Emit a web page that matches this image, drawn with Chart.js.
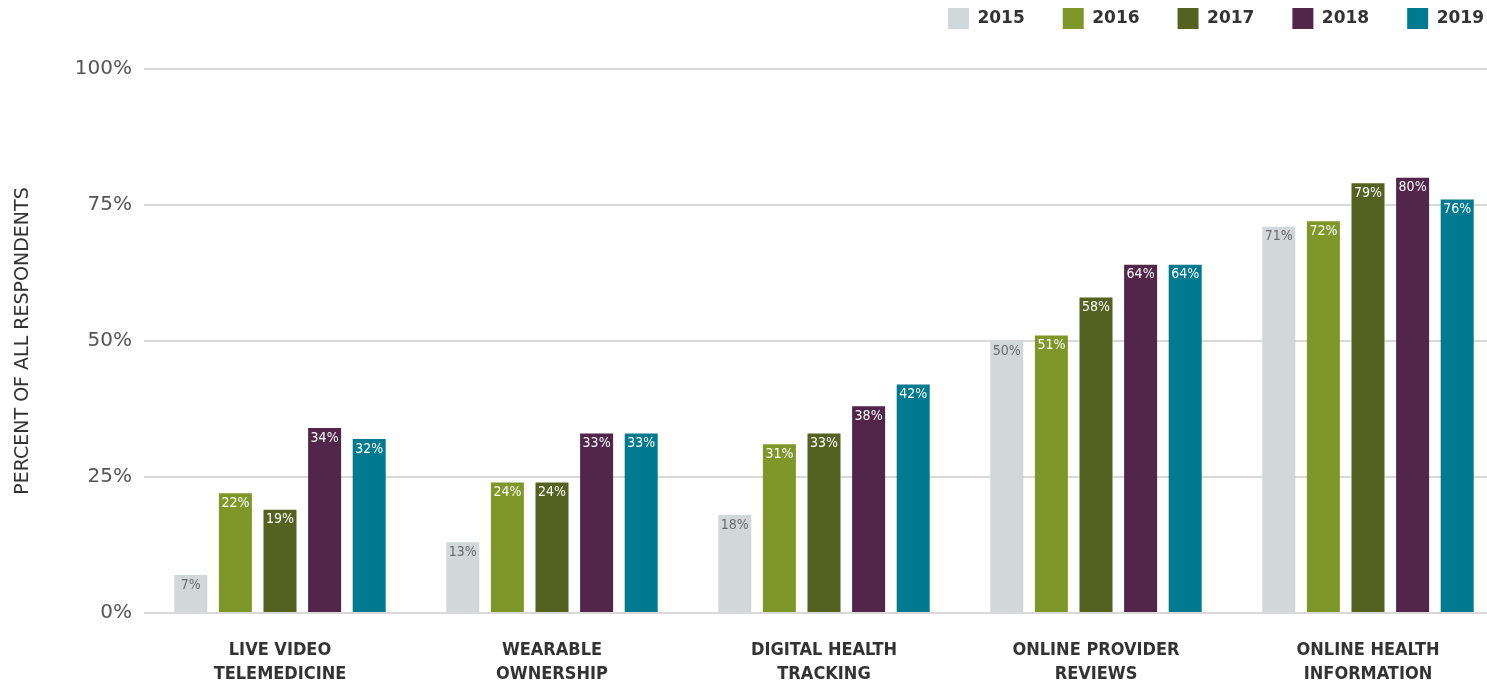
<!DOCTYPE html>
<html>
<head>
<meta charset="utf-8">
<script src="https://cdn.jsdelivr.net/npm/chart.js@4/dist/chart.umd.min.js"></script>
<style>
  html, body { margin: 0; padding: 0; background: #fff; overflow: hidden; }
  #wrap { width: 1520px; height: 686px; }
</style>
</head>
<body>
<div id="wrap"><canvas id="barChart"></canvas></div>
<script>
var categories = [["LIVE VIDEO", "TELEMEDICINE"], ["WEARABLE", "OWNERSHIP"], ["DIGITAL HEALTH", "TRACKING"], ["ONLINE PROVIDER", "REVIEWS"], ["ONLINE HEALTH", "INFORMATION"]];
var years = ["2015", "2016", "2017", "2018", "2019"];
var values2015 = [7, 13, 18, 50, 71];
var values2016 = [22, 24, 31, 51, 72];
var values2017 = [19, 24, 33, 58, 79];
var values2018 = [34, 33, 38, 64, 80];
var values2019 = [32, 33, 42, 64, 76];
var yTicks = [0, 25, 50, 75, 100];

var colors = ['#d0d8da', '#7f9629', '#556120', '#52254a', '#007a8e'];
var labelColors = ['#6b6b6b', '#fff', '#fff', '#fff', '#fff'];
var allValues = [values2015, values2016, values2017, values2018, values2019];

var condensed = "'DejaVu Sans Condensed', sans-serif";

// labels written inside the top of each bar
var barLabels = {
    id: 'barLabels',
    afterLayout: function(chart) {
        // nudge the legend to the top right corner
        var lg = chart.legend;
        lg.left += 18; lg.right += 18;
        lg.top -= 30; lg.bottom -= 30;
    },
    afterDatasetsDraw: function(chart) {
        var ctx = chart.ctx;
        ctx.save();
        ctx.font = '14px ' + condensed;
        ctx.textAlign = 'center';
        ctx.textBaseline = 'top';
        chart.data.datasets.forEach(function(ds, i) {
            var meta = chart.getDatasetMeta(i);
            meta.data.forEach(function(bar, j) {
                ctx.fillStyle = labelColors[i];
                ctx.fillText(ds.data[j] + '%', bar.x, bar.y + 3);
            });
        });
        ctx.restore();
    }
};

var ctx = document.getElementById('barChart').getContext('2d');

var myBarChart = new Chart(ctx, {
    type: 'bar',
    data: {
        labels: categories,
        datasets: years.map(function(y, i) {
            return {
                label: y,
                data: allValues[i],
                backgroundColor: colors[i],
                borderWidth: 0,
                categoryPercentage: 0.82,
                barPercentage: 0.74
            };
        })
    },
    options: {
        responsive: true,
        maintainAspectRatio: false,
        animation: false,
        layout: { padding: { top: 0, right: 16, bottom: 0, left: 0 } },
        plugins: {
            tooltip: { enabled: false },
            legend: {
                position: 'top',
                align: 'end',
                labels: {
                    boxWidth: 21,
                    boxHeight: 21,
                    padding: 38,
                    color: '#333',
                    font: { family: "'DejaVu Sans', sans-serif", size: 17, weight: 'bold' }
                }
            }
        },
        scales: {
            x: {
                grid: { display: false },
                border: { display: false },
                ticks: {
                    color: '#333',
                    padding: 17,
                    maxRotation: 0,
                    autoSkip: false,
                    font: { family: condensed, size: 18, weight: 'bold', lineHeight: 1.35 }
                },
                afterFit: function(scale) { scale.height = 73; }
            },
            y: {
                min: 0,
                max: 100,
                afterBuildTicks: function(scale) {
                    scale.ticks = yTicks.map(function(v) { return { value: v }; });
                },
                grid: { color: '#d9d9d9', lineWidth: 2, drawTicks: false },
                border: { display: false },
                ticks: {
                    color: '#555',
                    padding: 12,
                    font: { family: "'DejaVu Sans', sans-serif", size: 20 },
                    callback: function(v) { return v + '%'; }
                },
                title: {
                    display: true,
                    text: 'PERCENT OF ALL RESPONDENTS',
                    color: '#333',
                    padding: { top: 12, bottom: 0 },
                    font: { family: "'DejaVu Sans', sans-serif", size: 19 }
                },
                afterFit: function(scale) { scale.width = 144; }
            }
        }
    },
    plugins: [barLabels]
});
</script>
</body>
</html>
